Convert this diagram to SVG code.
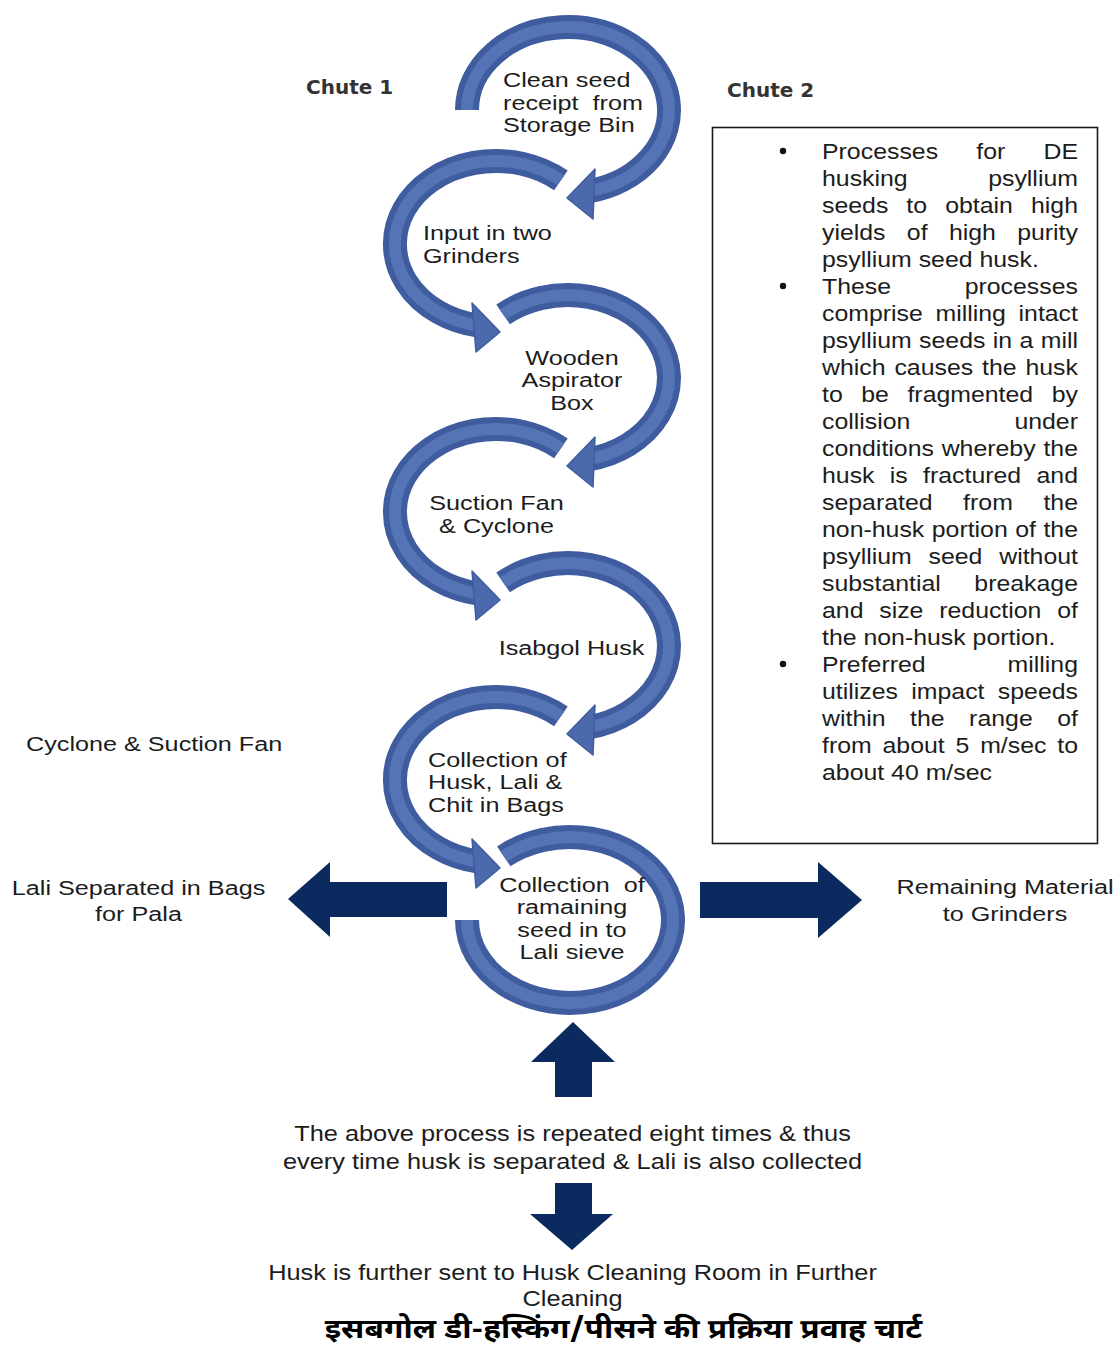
<svg xmlns="http://www.w3.org/2000/svg" xmlns:xlink="http://www.w3.org/1999/xlink" width="1116" height="1349" viewBox="0 0 1116 1349">
<style>
.bo{fill:none;stroke:#3f5c9f;stroke-width:24}
.bi{fill:none;stroke:#5474b5;stroke-width:12}
.hd{fill:#4b69ad;stroke:#3f5c9f;stroke-width:1.5;stroke-linejoin:round}
.t{font-family:"Liberation Sans",Arial,sans-serif;font-size:21px;fill:#1c1c1c}
.tb{font-family:"Liberation Sans",Arial,sans-serif;font-size:22.6px;fill:#1c1c1c}
.t2{font-family:"Liberation Sans",Arial,sans-serif;font-size:21.5px;fill:#1c1c1c}
.ch{font-family:"DejaVu Sans",sans-serif;font-weight:bold;font-size:20px;fill:#333}
.mid{text-anchor:middle}
.nv{fill:#0b2b60}
.hi{font-family:"Noto Sans Devanagari","Noto Sans","Lohit Devanagari",sans-serif;font-weight:bold;font-size:27px;fill:#000;text-anchor:middle}
</style>
<defs>
<path id="a1" d="M467 110 A101 83 0 1 1 589 191.2"/>
<path id="a2" d="M560.9 180.4 A101 83 0 1 0 478.5 325.7"/>
<path id="a3" d="M503.1 314.4 A101 83 0 1 1 589 459.2"/>
<path id="a4" d="M560.9 448.4 A101 83 0 1 0 478.5 593.7"/>
<path id="a5" d="M503.1 582.4 A101 83 0 1 1 589 727.2"/>
<path id="a6" d="M560.9 716.4 A101 83 0 1 0 478.5 861.7"/>
<path id="a7" d="M503.8 856.4 A103 83 0 1 1 467 920"/>
</defs>
<rect width="1116" height="1349" fill="#fff"/>

<g id="chute-labels">
<text class="ch" x="306" y="94">Chute 1</text>
<text class="ch" x="727" y="97">Chute 2</text>
</g>

<g id="node-clean-seed">
<use class="bo" xlink:href="#a1"/><use class="bi" xlink:href="#a1"/>
<polygon class="hd" points="567,198 595,169 593,219"/>
<text class="t" transform="translate(503 87) scale(1.2 1)"><tspan x="0" y="0">Clean seed</tspan><tspan x="0" y="22.7">receipt&#160; from</tspan><tspan x="0" y="45.4">Storage Bin</tspan></text>
</g>

<g id="node-input-grinders">
<use class="bo" xlink:href="#a2"/><use class="bi" xlink:href="#a2"/>
<polygon class="hd" points="500,332 472,303 476,352"/>
<text class="t" transform="translate(423 240) scale(1.2 1)"><tspan x="0" y="0">Input in two</tspan><tspan x="0" y="22.7">Grinders</tspan></text>
</g>

<g id="node-aspirator">
<use class="bo" xlink:href="#a3"/><use class="bi" xlink:href="#a3"/>
<polygon class="hd" points="567,466 595,437 593,487"/>
<text class="t mid" transform="translate(572 365) scale(1.2 1)"><tspan x="0" y="0">Wooden</tspan><tspan x="0" y="22.5">Aspirator</tspan><tspan x="0" y="45">Box</tspan></text>
</g>

<g id="node-suction">
<use class="bo" xlink:href="#a4"/><use class="bi" xlink:href="#a4"/>
<polygon class="hd" points="500,600 472,571 476,620"/>
<text class="t mid" transform="translate(496.5 510) scale(1.2 1)"><tspan x="0" y="0">Suction Fan</tspan><tspan x="0" y="22.7">&amp; Cyclone</tspan></text>
</g>

<g id="node-isabgol">
<use class="bo" xlink:href="#a5"/><use class="bi" xlink:href="#a5"/>
<polygon class="hd" points="567,734 595,705 593,755"/>
<text class="t mid" transform="translate(571.5 655) scale(1.2 1)">Isabgol Husk</text>
</g>

<g id="node-collection-bags">
<use class="bo" xlink:href="#a6"/><use class="bi" xlink:href="#a6"/>
<polygon class="hd" points="500,868 472,839 476,888"/>
<text class="t" transform="translate(428 766.7) scale(1.2 1)"><tspan x="0" y="0">Collection of</tspan><tspan x="0" y="22.7">Husk, Lali &amp;</tspan><tspan x="0" y="45.4">Chit in Bags</tspan></text>
</g>

<g id="node-lali-sieve">
<use class="bo" xlink:href="#a7"/><use class="bi" xlink:href="#a7"/>
<text class="t mid" transform="translate(572 891.7) scale(1.2 1)"><tspan x="0" y="0">Collection&#160; of</tspan><tspan x="0" y="22.5">ramaining</tspan><tspan x="0" y="45">seed in to</tspan><tspan x="0" y="67.5">Lali sieve</tspan></text>
</g>

<g id="node-cyclone-fan">
<text class="t" transform="translate(26 751) scale(1.2 1)">Cyclone &amp; Suction Fan</text>
</g>

<g id="node-lali-pala">
<text class="t mid" transform="translate(138.5 895) scale(1.2 1)"><tspan x="0" y="0">Lali Separated in Bags</tspan><tspan x="0" y="26">for Pala</tspan></text>
</g>

<g id="node-remaining">
<text class="t mid" transform="translate(1005 894) scale(1.2 1)"><tspan x="0" y="0">Remaining Material</tspan><tspan x="0" y="27">to Grinders</tspan></text>
</g>

<g id="node-repeat">
<text class="t2 mid" transform="translate(572.5 1141) scale(1.18 1)"><tspan x="0" y="0">The above process is repeated eight times &amp; thus</tspan><tspan x="0" y="28">every time husk is separated &amp; Lali is also collected</tspan></text>
</g>

<g id="node-husk-cleaning">
<text class="t2 mid" transform="translate(572.5 1280) scale(1.18 1)"><tspan x="0" y="0">Husk is further sent to Husk Cleaning Room in Further</tspan><tspan x="0" y="26">Cleaning</tspan></text>
</g>

<g id="notes">
<rect x="712.5" y="127.5" width="385" height="716" fill="none" stroke="#1a1a1a" stroke-width="1.6"/>
<circle cx="783" cy="151" r="3.2" fill="#111"/>
<circle cx="783" cy="286" r="3.2" fill="#111"/>
<circle cx="783" cy="664" r="3.2" fill="#111"/>
<g transform="translate(822 0) scale(1.1 1)" class="tb">
<text y="159" textLength="232.7" lengthAdjust="spacing" style="word-spacing:28.4px">Processes for DE</text>
<text y="186" textLength="232.7" lengthAdjust="spacing" style="word-spacing:66.9px">husking psyllium</text>
<text y="213" textLength="232.7" lengthAdjust="spacing" style="word-spacing:10.1px">seeds to obtain high</text>
<text y="240" textLength="232.7" lengthAdjust="spacing" style="word-spacing:13.1px">yields of high purity</text>
<text y="267">psyllium seed husk.</text>
<text y="294" textLength="232.7" lengthAdjust="spacing" style="word-spacing:60.6px">These processes</text>
<text y="321" textLength="232.7" lengthAdjust="spacing" style="word-spacing:5.2px">comprise milling intact</text>
<text y="348" textLength="232.7" lengthAdjust="spacing" style="word-spacing:0.4px">psyllium seeds in a mill</text>
<text y="375" textLength="232.7" lengthAdjust="spacing" style="word-spacing:1.8px">which causes the husk</text>
<text y="402" textLength="232.7" lengthAdjust="spacing" style="word-spacing:10.6px">to be fragmented by</text>
<text y="429" textLength="232.7" lengthAdjust="spacing" style="word-spacing:88.3px">collision under</text>
<text y="456" textLength="232.7" lengthAdjust="spacing" style="word-spacing:0.8px">conditions whereby the</text>
<text y="483" textLength="232.7" lengthAdjust="spacing" style="word-spacing:7.6px">husk is fractured and</text>
<text y="510" textLength="232.7" lengthAdjust="spacing" style="word-spacing:21.5px">separated from the</text>
<text y="537" textLength="232.7" lengthAdjust="spacing" style="word-spacing:0.5px">non-husk portion of the</text>
<text y="564" textLength="232.7" lengthAdjust="spacing" style="word-spacing:9px">psyllium seed without</text>
<text y="591" textLength="232.7" lengthAdjust="spacing" style="word-spacing:24.2px">substantial breakage</text>
<text y="618" textLength="232.7" lengthAdjust="spacing" style="word-spacing:8.1px">and size reduction of</text>
<text y="645">the non-husk portion.</text>
<text y="672" textLength="232.7" lengthAdjust="spacing" style="word-spacing:68.2px">Preferred milling</text>
<text y="699" textLength="232.7" lengthAdjust="spacing" style="word-spacing:5.8px">utilizes impact speeds</text>
<text y="726" textLength="232.7" lengthAdjust="spacing" style="word-spacing:16px">within the range of</text>
<text y="753" textLength="232.7" lengthAdjust="spacing" style="word-spacing:3.5px">from about 5 m/sec to</text>
<text y="780">about 40 m/sec</text>
</g>
</g>

<g id="connectors">
<polygon class="nv" points="447,882 330,882 330,862 288,899 330,937 330,917 447,917"/>
<polygon class="nv" points="700,882 818,882 818,862 862,900 818,938 818,918 700,918"/>
<polygon class="nv" points="573,1022 615,1062 592,1062 592,1097 555,1097 555,1062 531,1062"/>
<polygon class="nv" points="555,1183 592,1183 592,1214 613,1214 572,1250 530,1214 555,1214"/>
</g>

<g id="title">
<text class="hi" transform="translate(623.5 1338) scale(1.17 1)">इसबगोल डी-हस्किंग/पीसने की प्रक्रिया प्रवाह चार्ट</text>
</g>
</svg>
